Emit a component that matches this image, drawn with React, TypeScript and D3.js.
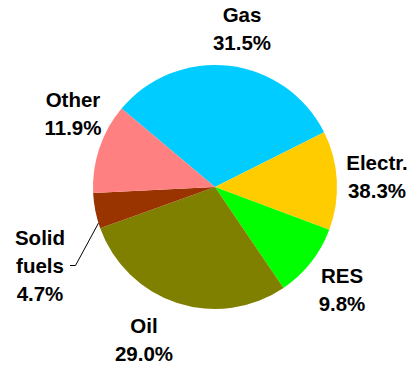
import React from "react";
import * as d3 from "d3";

const categories = ["Gas", "Electr.", "RES", "Oil", "Solid fuels", "Other"];
const sliceValues = [31.5, 13.1, 9.8, 29.0, 4.7, 11.9];
const labelValues = ["31.5%", "38.3%", "9.8%", "29.0%", "4.7%", "11.9%"];
const colors = ["#00CCFF", "#FFCC00", "#00FF00", "#808000", "#993300", "#FF8080"];

const W = 420, H = 366;
const cx = 215, cy = 187, R = 122;

// label anchor positions (centre x, first line baseline y)
const labelPos: [number, number][] = [
  [242, 22], [377, 170], [342, 283], [144, 333], [40, 245], [73, 107],
];

export default function App() {
  const pie = d3.pie<number>().sort(null).startAngle(-50 * Math.PI / 180).endAngle(310 * Math.PI / 180);
  const arcs = pie(sliceValues);
  const arc = d3.arc<d3.PieArcDatum<number>>().innerRadius(0).outerRadius(R);
  const lh = 28;
  const sf = arcs[4];
  const a0 = sf.startAngle + (sf.endAngle - sf.startAngle) * 0.15;
  const p0: [number, number] = [cx + Math.sin(a0) * R, cy - Math.cos(a0) * R];
  return (
    <svg width={W} height={H} style={{ position: "absolute", left: 0, top: 0 }}>
      <g transform={`translate(${cx},${cy})`}>
        {arcs.map((a, i) => (
          <path key={i} d={arc(a) || ""} fill={colors[i]} />
        ))}
      </g>
      <polyline
        points={`${p0[0]},${p0[1]} 75.5,265.5 70,265.5`}
        fill="none" stroke="#000" strokeWidth={1}
      />
      {categories.map((c, i) => {
        const lines = c === "Solid fuels" ? ["Solid", "fuels", labelValues[i]] : [c, labelValues[i]];
        const [x, y] = labelPos[i];
        return (
          <text key={i} x={x} y={y} textAnchor="middle"
            fontFamily="Liberation Sans, Arial, sans-serif" fontWeight="bold" fontSize={20.5} fill="#000">
            {lines.map((l, j) => (
              <tspan key={j} x={x} y={y + j * lh}>{l}</tspan>
            ))}
          </text>
        );
      })}
    </svg>
  );
}
